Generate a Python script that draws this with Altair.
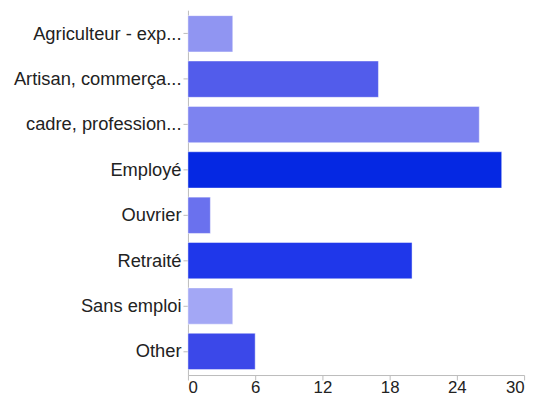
import altair as alt
import pandas as pd

categories = [
    "Agriculteur - exp...",
    "Artisan, commerça...",
    "cadre, profession...",
    "Employé",
    "Ouvrier",
    "Retraité",
    "Sans emploi",
    "Other",
]
values = [4, 17, 26, 28, 2, 20, 4, 6]
x_ticks = [0, 6, 12, 18, 24, 30]

bar_colors = ["#9095f2", "#525ceb", "#7d83f0", "#0528e3", "#6a71ee", "#1f37ea", "#a3a7f5", "#3b48e9"]

df = pd.DataFrame({"cat": categories, "val": values})

chart = (
    alt.Chart(df)
    .mark_bar(stroke="#ffffff", strokeOpacity=0.45, strokeWidth=1)
    .encode(
        y=alt.Y(
            "cat:N",
            sort=categories,
            title=None,
            scale=alt.Scale(paddingInner=0.2, paddingOuter=0.12),
            axis=alt.Axis(
                labelFont="Liberation Sans",
                labelFontSize=18.5,
                labelColor="#222222",
                labelPadding=2,
                tickSize=5,
                tickColor="#bbbbbb",
                domainColor="#bbbbbb",
                labelLimit=300,
            ),
        ),
        x=alt.X(
            "val:Q",
            title=None,
            scale=alt.Scale(domain=[0, 30], nice=False),
            axis=alt.Axis(
                values=x_ticks,
                grid=False,
                labelFont="Liberation Sans",
                labelFontSize=17,
                labelColor="#222222",
                labelPadding=0,
                tickSize=5,
                tickColor="#bbbbbb",
                domainColor="#bbbbbb",
            ),
        ),
        color=alt.Color(
            "cat:N",
            sort=categories,
            scale=alt.Scale(domain=categories, range=bar_colors),
            legend=None,
        ),
    )
    .properties(
        width=340,
        height=369,
        autosize=alt.AutoSizeParams(type="none"),
        padding={"left": 182, "top": 0, "right": 10, "bottom": 19},
    )
    .configure_view(stroke=None)
)

chart.save("out.html", embed_options={"renderer": "svg", "actions": False})
